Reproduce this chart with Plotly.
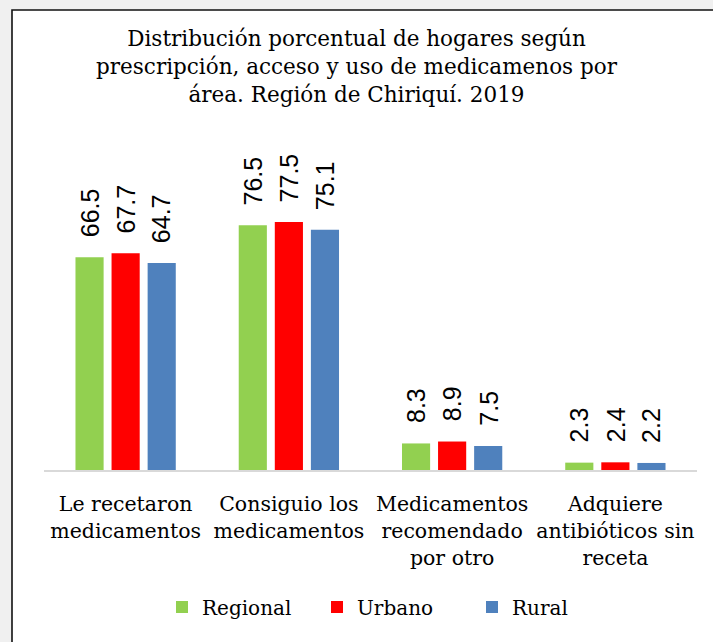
import plotly.graph_objects as go

categories = ["Le recetaron<br>medicamentos", "Consiguio los<br>medicamentos",
              "Medicamentos<br>recomendado<br>por otro", "Adquiere<br>antibióticos sin<br>receta"]
regional = [66.5, 76.5, 8.3, 2.3]
urbano = [67.7, 77.5, 8.9, 2.4]
rural = [64.7, 75.1, 7.5, 2.2]
series_names = ["Regional", "Urbano", "Rural"]
series_colors = ["#92d050", "#ff0000", "#4f81bd"]
title_text = ("Distribución porcentual de hogares según<br>"
              "prescripción, acceso y uso de medicamenos por<br>"
              "área. Región de Chiriquí. 2019")

W, H = 713, 642
L, R, T, B = 44, 16, 166, 172
YMAX = 95
SERIF = "DejaVu Serif"
LABEL_FONT = "Liberation Sans Narrow, Liberation Sans, Arial"

fig = go.Figure()
all_series = [regional, urbano, rural]
for name, vals, col in zip(series_names, all_series, series_colors):
    fig.add_trace(go.Bar(x=categories, y=vals, name=name, marker_color=col,
                         marker_line_width=0))

slot = (W - L - R) / len(categories) * (1 - 0.337) / 3
for i, vals in enumerate(all_series):
    for c, v in zip(categories, vals):
        fig.add_annotation(x=c, y=v, xref="x", yref="y", text=f"{v:.1f}",
                           textangle=-90, showarrow=False, xanchor="center",
                           yanchor="bottom", xshift=(i - 1) * slot, yshift=18,
                           font=dict(family=LABEL_FONT, size=25, color="#000"))

# chart frame
px2x = lambda px: (px - L) / (W - L - R)
py2y = lambda py: ((H - B) - py) / (H - T - B)
fig.add_shape(type="rect", xref="paper", yref="paper", layer="below",
              x0=px2x(12), x1=px2x(730), y0=py2y(660), y1=py2y(10),
              fillcolor="white", line=dict(color="#111", width=1.6))

fig.update_layout(
    width=W, height=H,
    margin=dict(l=L, r=R, t=T, b=B, autoexpand=False),
    paper_bgcolor="#f0f0f0", plot_bgcolor="rgba(0,0,0,0)",
    barmode="group", bargap=0.337, bargroupgap=0.22,
    title=dict(text=title_text, x=0.5, xref="container", xanchor="center",
               y=1 - 46 / H, yref="container", yanchor="top",
               font=dict(family=SERIF, size=21.5, color="#000")),
    xaxis=dict(showline=True, linecolor="#d9d9d9", linewidth=1.5, ticks="",
               ticklabelstandoff=15,
               tickfont=dict(family=SERIF, size=20.5, color="#000")),
    yaxis=dict(range=[0, YMAX], visible=False),
    legend=dict(orientation="h", x=162 / W, xref="container", xanchor="left",
                y=1 - 607 / H, yref="container", yanchor="middle",
                font=dict(family=SERIF, size=20, color="#000"),
                bgcolor="rgba(0,0,0,0)", entrywidth=110),
    showlegend=True,
)

fig.write_html("out.html", config={"displayModeBar": False},
               post_script="document.body.style.margin='0';"
                           "document.body.style.background='#f0f0f0';")
